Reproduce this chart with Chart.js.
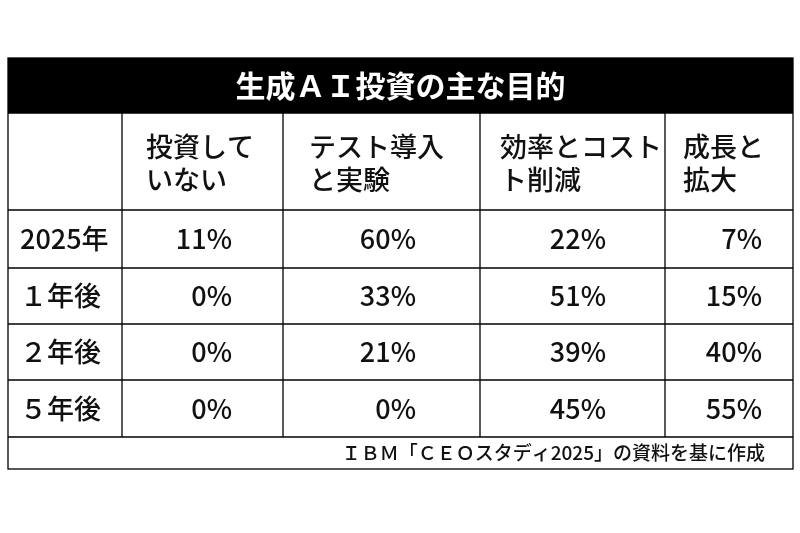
<!DOCTYPE html>
<html><head><meta charset="utf-8">
<script src="https://cdn.jsdelivr.net/npm/chart.js@4"></script>
<style>html,body{margin:0;padding:0;background:#fff}#w{width:800px;height:533px}</style>
</head><body><div id="w"><canvas id="c"></canvas></div>
<script>
const title = "生成ＡＩ投資の主な目的";
const categories = [["投資して","いない"],["テスト導入","と実験"],["効率とコスト","ト削減"],["成長と","拡大"]];
const rows = ["2025年","１年後","２年後","５年後"];
const notInvesting = [11,0,0,0];
const testing = [60,33,21,0];
const efficiency = [22,51,39,45];
const growth = [7,15,40,55];
const source = "ＩＢＭ「ＣＥＯスタディ2025」の資料を基に作成";
const series = [notInvesting, testing, efficiency, growth];

// layout (in table units)
const L = {
  colEdges:[0,114,275,472,657,785],
  rowEdges:[0,55,152,210,266,322,379,411],
  headLeft:[138,301,492,675],
  valRight:[224,408,598,754]
};
const font = 'Noto Sans CJK JP';

const tablePlugin = {
  id:'table',
  afterDraw(ch){
    const ctx=ch.ctx, xs=ch.scales.x, ys=ch.scales.y;
    const X=v=>xs.getPixelForValue(v), Y=v=>ys.getPixelForValue(v);
    const re=L.rowEdges, ce=L.colEdges;
    ctx.save();
    // title bar
    ctx.fillStyle='#000';
    ctx.fillRect(X(0),Y(0),X(785)-X(0),Y(55)-Y(0));
    ctx.fillStyle='#fff'; ctx.font='bold 30px "'+font+'"';
    ctx.textAlign='center'; ctx.textBaseline='middle';
    ctx.fillText(title,(X(0)+X(785))/2,Y(27.5));
    // lines
    ctx.strokeStyle='#000'; ctx.lineWidth=1.3;
    ctx.strokeRect(X(0),Y(0),X(785)-X(0),Y(411)-Y(0));
    for(let i=2;i<re.length-1;i++){ctx.beginPath();ctx.moveTo(X(0),Y(re[i]));ctx.lineTo(X(785),Y(re[i]));ctx.stroke();}
    ctx.beginPath();ctx.moveTo(X(0),Y(re[1]));ctx.lineTo(X(785),Y(re[1]));ctx.stroke();
    for(let i=1;i<ce.length-1;i++){ctx.beginPath();ctx.moveTo(X(ce[i]),Y(re[1]));ctx.lineTo(X(ce[i]),Y(re[6]));ctx.stroke();}
    // headers
    ctx.fillStyle='#111'; ctx.font='500 27px "'+font+'"'; ctx.textAlign='left';
    categories.forEach((c,i)=>{
      ctx.fillText(c[0],X(L.headLeft[i]),Y(89));
      ctx.fillText(c[1],X(L.headLeft[i]),Y(122));
    });
    // rows
    rows.forEach((r,j)=>{
      const cy=(Y(re[j+2])+Y(re[j+3]))/2;
      ctx.textAlign='left'; ctx.font='500 27px "'+font+'"';
      ctx.fillText(r,X(12),cy);
      ctx.textAlign='right';
      series.forEach((s,i)=>ctx.fillText(s[j]+'%',X(L.valRight[i]),cy));
    });
    // source
    ctx.font='500 19px "'+font+'"'; ctx.textAlign='right';
    ctx.fillText(source,X(757),(Y(379)+Y(411))/2);
    ctx.restore();
  }
};

new Chart(document.getElementById('c'),{
  type:'scatter',
  data:{datasets:[{data:[],pointRadius:0}]},
  options:{
    responsive:true,maintainAspectRatio:false,animation:false,
    layout:{padding:{left:8,right:7,top:58,bottom:64}},
    plugins:{legend:{display:false},tooltip:{enabled:false}},
    scales:{
      x:{type:'linear',min:0,max:785,display:false},
      y:{type:'linear',min:0,max:411,reverse:true,display:false}
    }
  },
  plugins:[tablePlugin]
});
</script></body></html>
